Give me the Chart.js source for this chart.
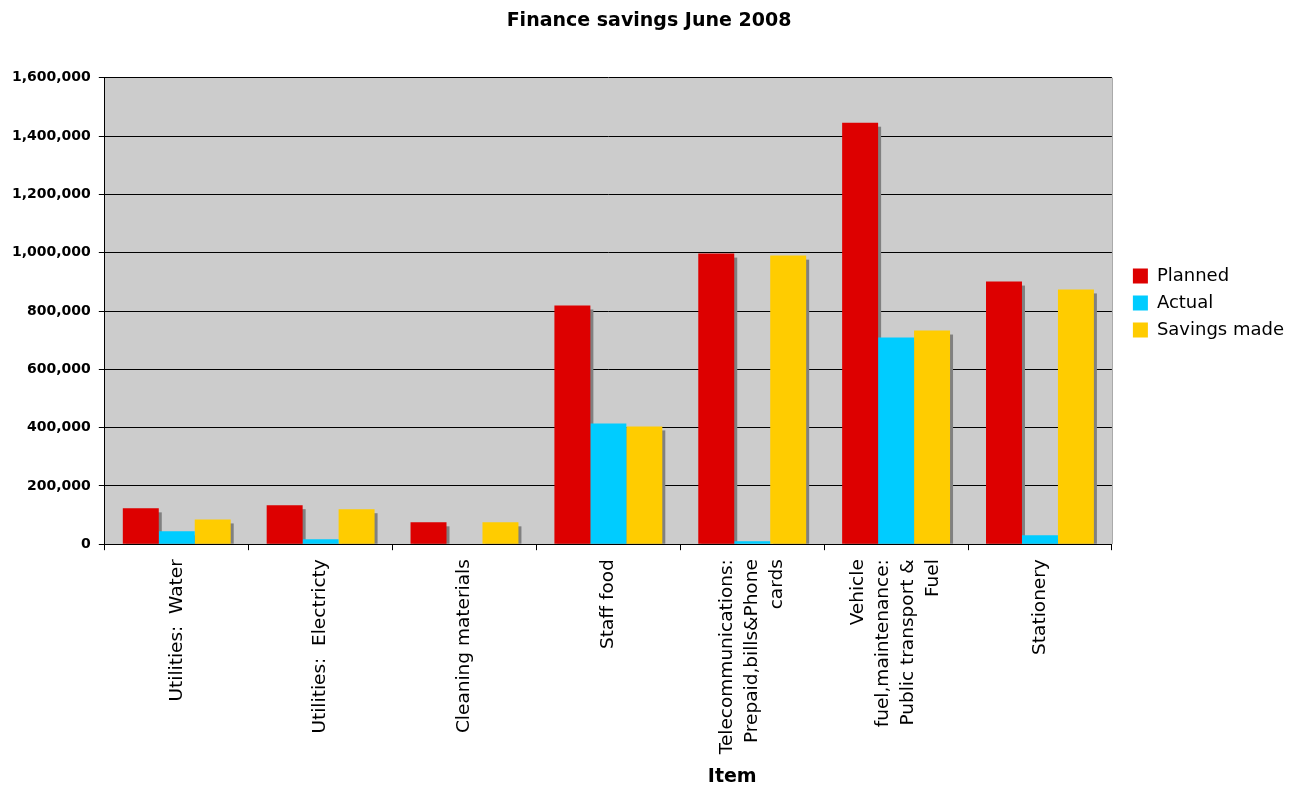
<!DOCTYPE html>
<html>
<head>
<meta charset="utf-8">
<title>Finance savings June 2008</title>
<script src="https://cdn.jsdelivr.net/npm/chart.js@4.4.1/dist/chart.umd.min.js"></script>
<style>
  html, body { margin: 0; padding: 0; background: #fff; }
  #wrap { width: 1290px; height: 785px; position: relative; }
</style>
</head>
<body>
<div id="wrap"><canvas id="chart"></canvas></div>
<script>
// ── Data ────────────────────────────────────────────────────
const categories = [
    'Utilities:  Water',
    'Utilities:  Electricty',
    'Cleaning materials',
    'Staff food',
    ['Telecommunications:', 'Prepaid,bills&Phone', 'cards'],
    ['Vehicle', 'fuel,maintenance:', 'Public transport &', 'Fuel'],
    'Stationery'
];
const planned = [123000, 134000, 75000, 819000, 997000, 1446000, 901000];
const actual  = [44000, 17000, 0, 414000, 10000, 709000, 31000];
const savings = [85000, 120000, 75000, 404000, 990000, 733000, 874000];
const yTicks  = [0, 200000, 400000, 600000, 800000, 1000000, 1200000, 1400000, 1600000];
const xTitle  = 'Item';

const FONT = "'DejaVu Sans', Verdana, sans-serif";
Chart.defaults.font.family = FONT;
Chart.defaults.color = '#000';

const X_FONT_SIZE = 18.5;
const X_LINE_H    = 25;
const X_TICK_LEN  = 6;
const X_TICK_PAD  = 9;
const X_TITLE_SIZE = 19;

// Grey plot area behind everything
const plotBackground = {
    id: 'plotBackground',
    beforeDraw(chart) {
        const { ctx, chartArea: a } = chart;
        ctx.save();
        ctx.fillStyle = '#CCCCCC';
        ctx.fillRect(a.left, a.top, a.right - a.left, a.bottom - a.top);
        ctx.strokeStyle = '#A0A0A0';
        ctx.lineWidth = 1;
        ctx.beginPath();
        ctx.moveTo(a.right + 0.5, a.top);
        ctx.lineTo(a.right + 0.5, a.bottom);
        ctx.stroke();
        ctx.restore();
    }
};

// Drop shadow offset down-right of every bar
const barShadow = {
    id: 'barShadow',
    beforeDatasetsDraw(chart) {
        const { ctx } = chart;
        ctx.save();
        ctx.fillStyle = '#808080';
        chart.data.datasets.forEach((ds, i) => {
            const meta = chart.getDatasetMeta(i);
            meta.data.forEach(bar => {
                const p = bar.getProps(['x', 'y', 'base', 'width'], true);
                const h = p.base - p.y - 4;
                if (h <= 0) return;
                ctx.fillRect(p.x - p.width / 2 + 3, p.y + 4, p.width, h);
            });
        });
        ctx.restore();
    }
};

// Vertical category labels, multi-line blocks centred on their tick,
// plus the axis title sitting right of centre
// (the built-in ticks/title stay transparent and only reserve the space)
const categoryLabels = {
    id: 'categoryLabels',
    afterDraw(chart) {
        const { ctx, chartArea: a } = chart;
        const xs = chart.scales.x;
        const top = xs.top + X_TICK_LEN + X_TICK_PAD;
        ctx.save();
        ctx.fillStyle = '#000';
        ctx.font = `${X_FONT_SIZE}px ${FONT}`;
        ctx.textAlign = 'right';
        ctx.textBaseline = 'middle';
        categories.forEach((label, i) => {
            const lines = Array.isArray(label) ? label : [label];
            const cx = xs.getPixelForTick(i);
            lines.forEach((line, j) => {
                const lx = cx + (j - (lines.length - 1) / 2) * X_LINE_H;
                ctx.save();
                ctx.translate(lx, top);
                ctx.rotate(-Math.PI / 2);
                ctx.fillText(line, 0, 0);
                ctx.restore();
            });
        });

        ctx.font = `bold ${X_TITLE_SIZE}px ${FONT}`;
        ctx.textAlign = 'center';
        ctx.fillText(xTitle, a.left + (a.right - a.left) * 0.623, xs.bottom - X_TITLE_SIZE * 0.6);
        ctx.restore();
    }
};

// Nudge the legend block up a little from the plot's vertical centre
const legendNudge = {
    id: 'legendNudge',
    afterLayout(chart) {
        if (!chart.legend) return;
        chart.legend.top -= 8;
        chart.legend.bottom -= 8;
    }
};

new Chart(document.getElementById('chart'), {
    type: 'bar',
    data: {
        labels: categories,
        datasets: [
            { label: 'Planned',      data: planned, backgroundColor: '#DD0000' },
            { label: 'Actual',       data: actual,  backgroundColor: '#00CCFF' },
            { label: 'Savings made', data: savings, backgroundColor: '#FFCC00' }
        ]
    },
    options: {
        responsive: true,
        maintainAspectRatio: false,
        animation: false,
        datasets: { bar: { categoryPercentage: 0.75, barPercentage: 1.0, borderWidth: 0 } },
        layout: { padding: { left: 4, right: -4, top: 0, bottom: -3 } },
        plugins: {
            title: {
                display: true,
                text: 'Finance savings June 2008',
                font: { size: 19, weight: 'bold' },
                padding: { top: 10, bottom: 45 }
            },
            legend: {
                position: 'right',
                fullSize: false,
                labels: {
                    boxWidth: 15,
                    boxHeight: 15,
                    padding: 9,
                    font: { size: 18 }
                }
            },
            tooltip: { enabled: false }
        },
        scales: {
            x: {
                grid: {
                    offset: true,
                    drawOnChartArea: false,
                    drawTicks: true,
                    tickLength: X_TICK_LEN,
                    color: '#000'
                },
                border: { color: '#000', width: 1 },
                ticks: {
                    autoSkip: false,
                    minRotation: 90,
                    maxRotation: 90,
                    padding: X_TICK_PAD,
                    color: 'rgba(0,0,0,0)',
                    font: { size: X_FONT_SIZE, lineHeight: X_LINE_H / X_FONT_SIZE }
                },
                title: {
                    display: true,
                    text: xTitle,
                    color: 'rgba(0,0,0,0)',
                    font: { size: X_TITLE_SIZE, weight: 'bold' },
                    padding: { top: 2, bottom: 0 }
                }
            },
            y: {
                min: 0,
                max: 1600000,
                afterBuildTicks: axis => { axis.ticks = yTicks.map(v => ({ value: v })); },
                grid: { color: '#000', tickLength: 6 },
                border: { color: '#000', width: 1 },
                ticks: {
                    padding: 8,
                    font: { size: 14, weight: 'bold' },
                    callback: v => v.toLocaleString('en-US')
                }
            },
            // empty spacer between plot and legend
            gap: {
                type: 'linear',
                position: 'right',
                grid: { display: false, drawTicks: false },
                border: { display: false },
                ticks: { display: false },
                afterFit: s => { s.width = 12; }
            }
        }
    },
    plugins: [plotBackground, barShadow, categoryLabels, legendNudge]
});
</script>
</body>
</html>
